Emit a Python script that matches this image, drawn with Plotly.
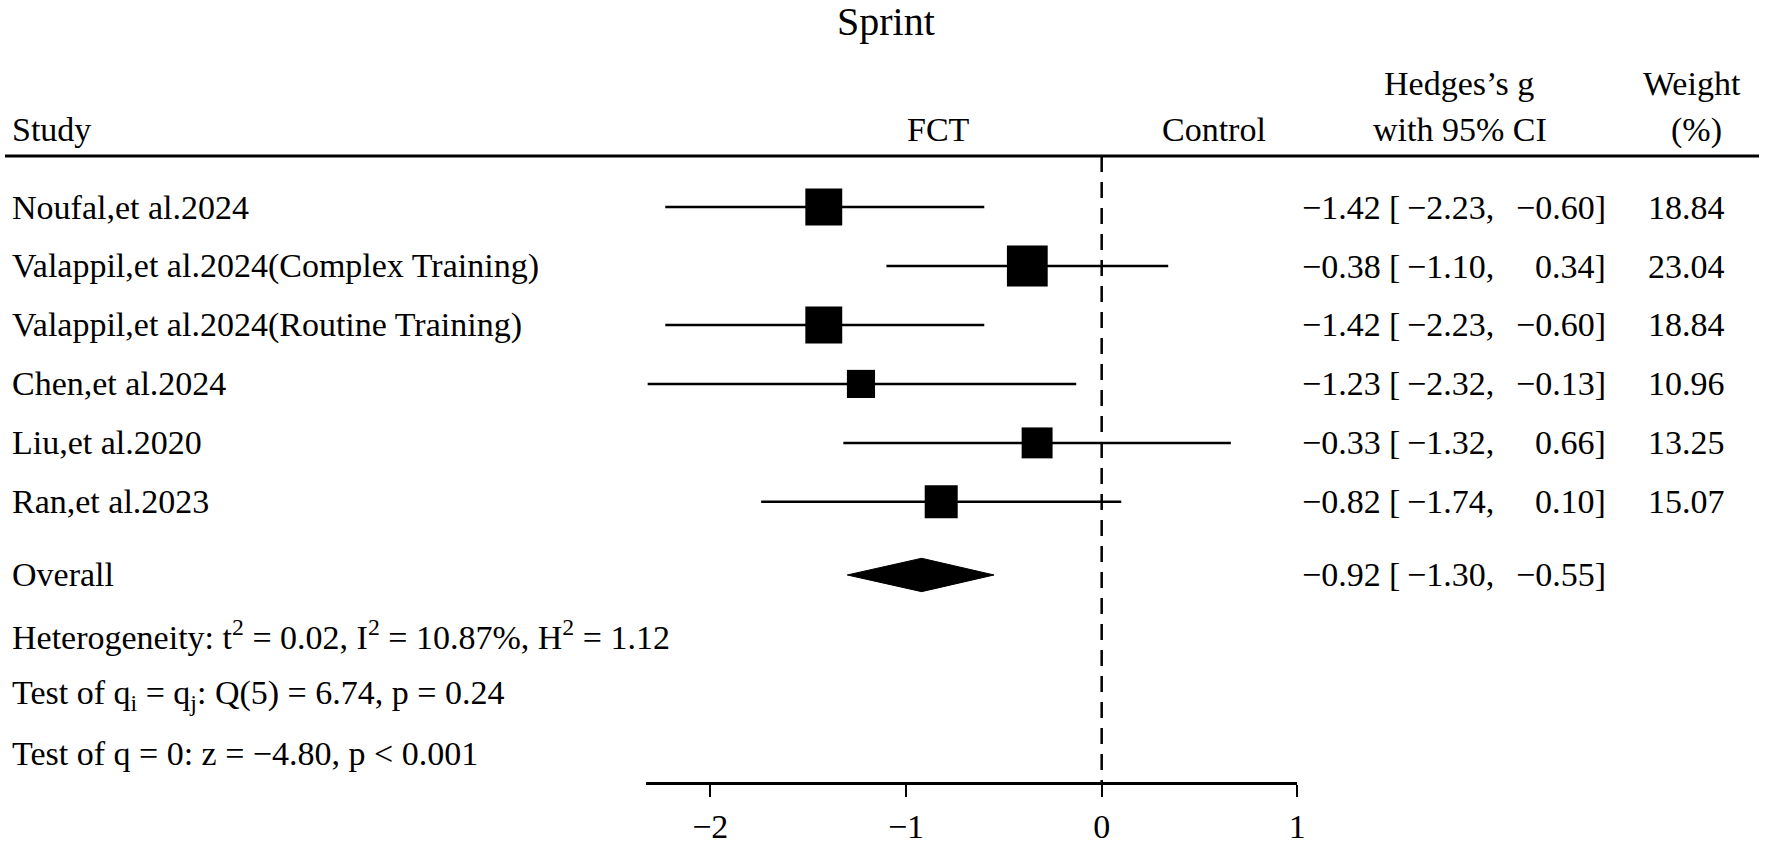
import numpy as np
import plotly.graph_objects as go

# study data
studies = [
    "Noufal,et al.2024",
    "Valappil,et al.2024(Complex Training)",
    "Valappil,et al.2024(Routine Training)",
    "Chen,et al.2024",
    "Liu,et al.2020",
    "Ran,et al.2023",
]
g = [-1.42, -0.38, -1.42, -1.23, -0.33, -0.82]
ci_low = [-2.23, -1.10, -2.23, -2.32, -1.32, -1.74]
ci_high = [-0.60, 0.34, -0.60, -0.13, 0.66, 0.10]
weights = [18.84, 23.04, 18.84, 10.96, 13.25, 15.07]

overall_g = -0.92
overall_low = -1.30
overall_high = -0.55

stats_lines = [
    "Heterogeneity: t<sup>2</sup> = 0.02, I<sup>2</sup> = 10.87%, H<sup>2</sup> = 1.12",
    "Test of q<sub>i</sub> = q<sub>j</sub>: Q(5) = 6.74, p = 0.24",
    "Test of q = 0: z = −4.80, p < 0.001",
]

tick_vals = [-2, -1, 0, 1]
tick_text = ["−2", "−1", "0", "1"]

W, H = 1772, 845
FONT = "Liberation Serif"
FS = 34

# vertical layout in pixels -> row units
ROW0, ROW_H = 211, 60.1


def row(y_px):
    return (y_px - ROW0) / ROW_H


def fmt(v):
    return f"{v:.2f}".replace("-", "−")


def px(x):
    return x / W


rows = list(range(len(studies)))
overall_row = row(586)
stats_rows = [row(647), row(708), row(768)]
line_row = row(159)
axis_px = 797

fig = go.Figure()

# CI lines + weight squares (area proportional to weight)
fig.add_trace(go.Scatter(
    x=g, y=rows, mode="markers",
    marker=dict(symbol="square", color="black", opacity=1,
                size=[8.5 * np.sqrt(w) for w in weights], line=dict(width=0)),
    error_x=dict(type="data", symmetric=False,
                 array=[h - m for h, m in zip(ci_high, g)],
                 arrayminus=[m - l for m, l in zip(g, ci_low)],
                 width=0, thickness=2.5, color="black"),
    showlegend=False, hoverinfo="skip",
))

# overall diamond
dh = 17 / ROW_H
fig.add_trace(go.Scatter(
    x=[overall_low, overall_g, overall_high, overall_g, overall_low],
    y=[overall_row, overall_row - dh, overall_row, overall_row + dh, overall_row],
    mode="lines", fill="toself", fillcolor="black",
    line=dict(color="black", width=1), showlegend=False, hoverinfo="skip",
))

ann = []


def add(text, x, y, anchor="left", size=FS):
    ann.append(dict(text=text, x=px(x), y=y, xref="paper", yref="y",
                    xanchor=anchor, yanchor="middle", showarrow=False,
                    font=dict(family=FONT, size=size, color="black")))


add("Sprint", 891, row(22), "center", 40)
add("Study", 10, row(132))
add("FCT", 943, row(132), "center")
add("Control", 1220, row(132), "center")
add("Hedges’s g", 1466, row(85), "center")
add("with 95% CI", 1467, row(132), "center")
add("Weight", 1701, row(85), "center")
add("(%)", 1705, row(132), "center")


def add_ci(r, m, lo, hi):
    add(fmt(m), 1390, r, "right")
    add("[", 1409, r, "right")
    add(fmt(lo) + ",", 1504, r, "right")
    add(fmt(hi) + "]", 1616, r, "right")


for r, name, m, lo, hi, w in zip(rows, studies, g, ci_low, ci_high, weights):
    add(name, 10, r)
    add_ci(r, m, lo, hi)
    add(f"{w:.2f}", 1736, r, "right")

add("Overall", 10, overall_row)
add_ci(overall_row, overall_g, overall_low, overall_high)

for r, t in zip(stats_rows, stats_lines):
    add(t, 10, r)

x0, x1 = -2.33, 1.0

fig.update_layout(
    width=W, height=H,
    margin=dict(l=0, r=0, t=0, b=H - axis_px, pad=0),
    plot_bgcolor="white", paper_bgcolor="white",
    annotations=ann,
    shapes=[
        dict(type="line", xref="paper", yref="y", x0=px(5), x1=px(1768),
             y0=line_row, y1=line_row, line=dict(color="black", width=3)),
        dict(type="line", xref="x", yref="y", x0=0, x1=0,
             y0=line_row, y1=row(axis_px), line=dict(color="black", width=2.5, dash="16px,10px")),
    ],
    xaxis=dict(domain=[649 / W, 1304 / W], range=[x0, x1],
               showgrid=False, zeroline=False, showline=True,
               linecolor="black", linewidth=3,
               ticks="outside", ticklen=12, tickwidth=2, tickcolor="black",
               tickvals=tick_vals, ticktext=tick_text,
               tickfont=dict(family=FONT, size=FS, color="black")),
    yaxis=dict(range=[row(axis_px), row(0)], visible=False, domain=[0, 1]),
)

fig.write_html("out.html", config={"displayModeBar": False},
               post_script="document.body.style.margin='0';")
